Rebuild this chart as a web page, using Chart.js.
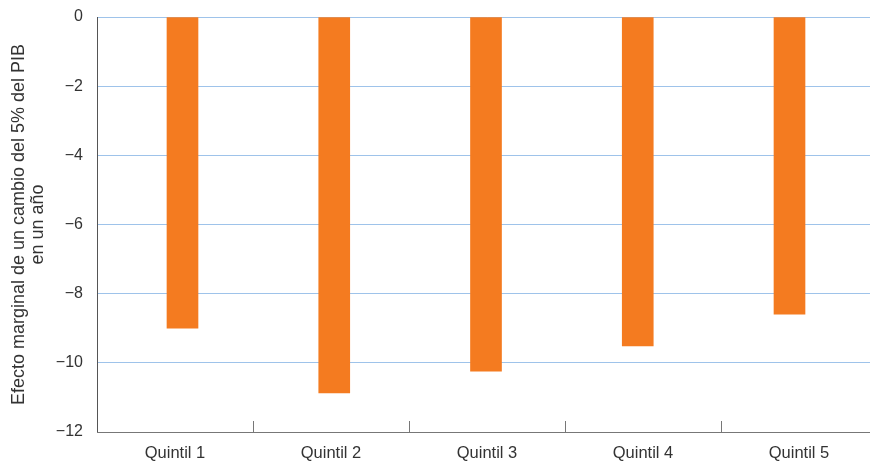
<!DOCTYPE html>
<html>
<head>
<meta charset="utf-8">
<script src="https://cdn.jsdelivr.net/npm/chart.js@4/dist/chart.umd.min.js"></script>
<style>
html,body{margin:0;padding:0;background:#fff;overflow:hidden;}
#wrap{width:870px;height:461px;overflow:hidden;}
canvas{display:block;}
</style>
</head>
<body>
<div id="wrap"><canvas id="c" width="877" height="461"></canvas></div>
<script>
const categories = ['Quintil 1','Quintil 2','Quintil 3','Quintil 4','Quintil 5'];
const values = [-9.0, -10.87, -10.24, -9.51, -8.59];
const yTicks = [0, -2, -4, -6, -8, -10, -12];
const yTitle = ['Efecto marginal de un cambio del 5% del PIB', 'en un año'];

const FONT = "'Liberation Sans', Arial, sans-serif";
const BAR_MIN = 0.4366, BAR_MAX = 5.5766;

const innerTicks = {
  id: 'innerTicks',
  afterDatasetsDraw(chart) {
    const s = chart.scales.x;
    const ctx = chart.ctx;
    const bottom = chart.chartArea.bottom;
    ctx.save();
    ctx.strokeStyle = '#777';
    ctx.lineWidth = 1;
    for (let i = 1; i < categories.length; i++) {
      const px = Math.round((s.getPixelForTick(i - 1) + s.getPixelForTick(i)) / 2) + 0.5;
      ctx.beginPath();
      ctx.moveTo(px, bottom - 11);
      ctx.lineTo(px, bottom);
      ctx.stroke();
    }
    ctx.beginPath();
    ctx.moveTo(chart.chartArea.left, Math.round(bottom) + 0.5);
    ctx.lineTo(chart.chartArea.right, Math.round(bottom) + 0.5);
    ctx.stroke();
    ctx.restore();
  }
};

new Chart(document.getElementById('c'), {
  type: 'bar',
  data: {
    labels: categories,
    datasets: [{
      data: values.map((v, i) => ({ x: i + 1, y: v })),
      xAxisID: 'xb',
      backgroundColor: '#F47B20',
      borderWidth: 0,
      barThickness: 31
    }]
  },
  options: {
    responsive: false,
    animation: false,
    layout: { padding: { top: 17, right: 0, bottom: 0, left: 0 } },
    plugins: { legend: { display: false }, tooltip: { enabled: false } },
    scales: {
      x: {
        type: 'category',
        offset: true,
        grid: { display: false, drawOnChartArea: false, drawTicks: false },
        border: { display: true, color: '#777', width: 1 },
        ticks: { color: '#333', font: { family: FONT, size: 16.5 }, padding: 12 },
        afterFit(scale) { scale.height = 29; scale.paddingLeft = 0; scale.paddingRight = 0; }
      },
      xb: {
        type: 'linear',
        display: false,
        offset: false,
        bounds: 'data',
        min: BAR_MIN,
        max: BAR_MAX,
        afterBuildTicks(scale) { scale.min = BAR_MIN; scale.max = BAR_MAX; }
      },
      y: {
        min: -12,
        max: 0,
        afterBuildTicks(scale) { scale.ticks = yTicks.map(v => ({ value: v })); },
        afterFit(scale) { scale.width = 97; scale.paddingTop = 0; scale.paddingBottom = 0; },
        grid: {
          color: '#9ec3ea',
          lineWidth: 1,
          drawTicks: false
        },
        border: { display: true, color: '#555', width: 1 },
        ticks: {
          color: '#333',
          font: { family: FONT, size: 16 },
          padding: 14,
          callback: (v) => v < 0 ? '\u2212' + Math.abs(v) : String(v)
        },
        title: {
          display: true,
          text: yTitle,
          color: '#333',
          font: { family: FONT, size: 18, lineHeight: 1.06 },
          padding: { top: 9, bottom: 0 }
        }
      }
    }
  },
  plugins: [innerTicks]
});
</script>
</body>
</html>
